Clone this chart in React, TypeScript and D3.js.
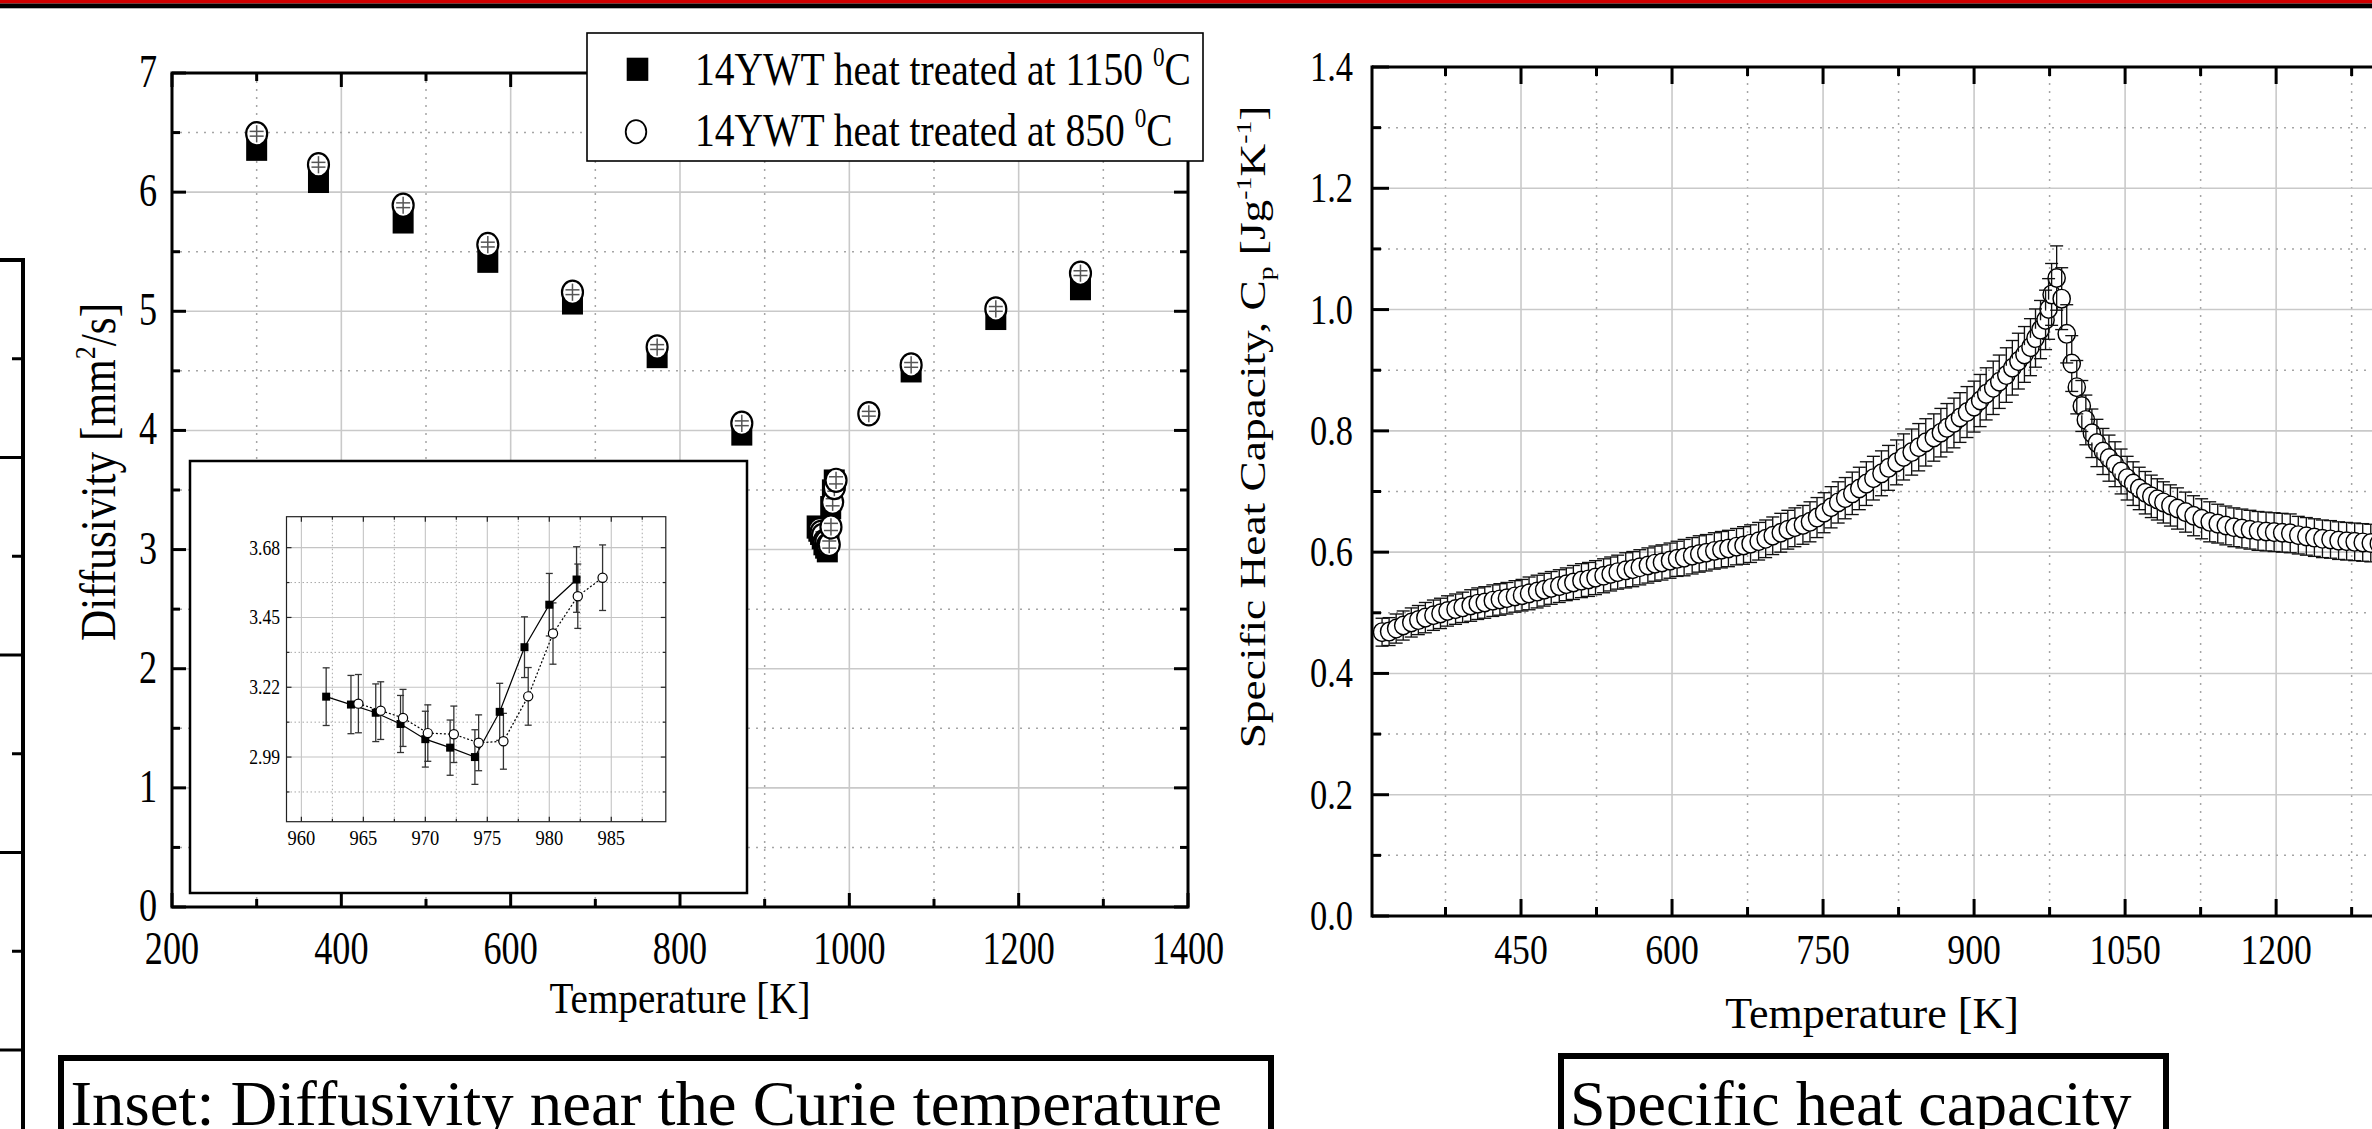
import React from 'react';
import * as d3 from 'd3';

const W = 2372;
const H = 1129;
const FONT = "'Liberation Serif','Times New Roman',Times,serif";

// ---------- Diffusivity (main panel) ----------
const diffTicksX = [200, 400, 600, 800, 1000, 1200, 1400];
const diffTicksY = [0, 1, 2, 3, 4, 5, 6, 7];
const sqTemp = [300, 373, 473, 573, 673, 773, 873, 1073, 1173, 1273];
const sqVal = [6.36, 6.09, 5.75, 5.42, 5.07, 4.62, 3.97, 4.5, 4.94, 5.19];
const sqErr = [0.02, 0.02, 0.02, 0.02, 0.02, 0.02, 0.02, 0.02, 0.02, 0.02];
const ciTemp = [300, 373, 473, 573, 673, 773, 873, 1023, 1073, 1173, 1273];
const ciVal = [6.49, 6.23, 5.89, 5.56, 5.16, 4.7, 4.06, 4.14, 4.55, 5.02, 5.32];
const ciErr = [0.02, 0.02, 0.02, 0.02, 0.02, 0.02, 0.02, 0.02, 0.02, 0.02, 0.02];

// ---------- Inset (near Curie temperature) ----------
const insetTicksX = [960, 965, 970, 975, 980, 985];
const insetTicksY = [2.99, 3.22, 3.45, 3.68];
const inSqTemp = [962, 964, 966, 968, 970, 972, 974, 976, 978, 980, 982.2];
const inSqVal = [3.189, 3.163, 3.136, 3.099, 3.049, 3.021, 2.99, 3.139, 3.352, 3.492, 3.575];
const inSqErr = [0.095, 0.096, 0.095, 0.094, 0.092, 0.091, 0.09, 0.094, 0.1, 0.103, 0.108];
const inCiTemp = [964.6, 966.4, 968.2, 970.2, 972.3, 974.3, 976.3, 978.3, 980.3, 982.3, 984.3];
const inCiVal = [3.166, 3.143, 3.119, 3.069, 3.065, 3.037, 3.042, 3.19, 3.397, 3.52, 3.581];
const inCiErr = [0.096, 0.095, 0.094, 0.093, 0.093, 0.092, 0.092, 0.095, 0.101, 0.106, 0.108];

// ---------- Specific heat capacity ----------
const cpTicksX = [450, 600, 750, 900, 1050, 1200, 1350];
const cpTickLabelsX = [450, 600, 750, 900, 1050, 1200];
const cpTicksY = [0, 0.2, 0.4, 0.6, 0.8, 1.0, 1.2, 1.4];
// [temperature K, Cp J/gK, error]
const cpPoints: [number, number, number][] = [
  [312, 0.468, 0.023], [319, 0.469, 0.023], [326, 0.474, 0.024], [333, 0.479, 0.024],
  [341, 0.484, 0.024], [348, 0.488, 0.024], [355, 0.492, 0.025], [363, 0.496, 0.025],
  [370, 0.499, 0.025], [377, 0.503, 0.025], [385, 0.506, 0.025], [392, 0.509, 0.025],
  [400, 0.512, 0.026], [407, 0.515, 0.026], [414, 0.517, 0.026], [422, 0.52, 0.026],
  [429, 0.522, 0.026], [436, 0.524, 0.026], [444, 0.527, 0.026], [451, 0.529, 0.026],
  [458, 0.532, 0.027], [466, 0.535, 0.027], [473, 0.538, 0.027], [480, 0.541, 0.027],
  [488, 0.544, 0.027], [495, 0.547, 0.027], [502, 0.55, 0.028], [510, 0.553, 0.028],
  [517, 0.555, 0.028], [524, 0.558, 0.028], [532, 0.561, 0.028], [539, 0.564, 0.028],
  [546, 0.567, 0.028], [554, 0.57, 0.029], [561, 0.572, 0.029], [568, 0.575, 0.029],
  [576, 0.578, 0.029], [583, 0.581, 0.029], [590, 0.583, 0.029], [598, 0.586, 0.029],
  [605, 0.589, 0.029], [612, 0.591, 0.03], [620, 0.594, 0.03], [627, 0.597, 0.03],
  [634, 0.599, 0.03], [642, 0.602, 0.03], [649, 0.604, 0.03], [656, 0.606, 0.03],
  [664, 0.609, 0.03], [671, 0.611, 0.031], [678, 0.614, 0.031], [686, 0.618, 0.031],
  [693, 0.622, 0.031], [700, 0.627, 0.031], [708, 0.632, 0.032], [715, 0.637, 0.032],
  [722, 0.641, 0.032], [730, 0.645, 0.032], [737, 0.65, 0.033], [744, 0.657, 0.033],
  [751, 0.665, 0.033], [758, 0.674, 0.034], [765, 0.682, 0.034], [772, 0.689, 0.034],
  [779, 0.697, 0.035], [786, 0.705, 0.035], [793, 0.713, 0.036], [800, 0.722, 0.036],
  [808, 0.73, 0.037], [815, 0.739, 0.037], [823, 0.748, 0.037], [830, 0.757, 0.038],
  [838, 0.765, 0.038], [845, 0.773, 0.039], [852, 0.781, 0.039], [860, 0.789, 0.039],
  [867, 0.797, 0.04], [873, 0.805, 0.04], [880, 0.813, 0.041], [886, 0.822, 0.041],
  [893, 0.831, 0.042], [900, 0.84, 0.042], [906, 0.85, 0.043], [912, 0.861, 0.043],
  [919, 0.871, 0.044], [925, 0.881, 0.044], [932, 0.892, 0.045], [938, 0.904, 0.045],
  [944, 0.915, 0.046], [950, 0.926, 0.046], [956, 0.938, 0.047], [961, 0.953, 0.048],
  [966, 0.967, 0.048], [971, 0.983, 0.049], [974, 1.001, 0.05], [977, 1.025, 0.051],
  [982, 1.052, 0.053], [987, 1.018, 0.051], [992, 0.96, 0.048], [997, 0.911, 0.046],
  [1002, 0.872, 0.044], [1007, 0.841, 0.042], [1011, 0.818, 0.041], [1017, 0.796, 0.04],
  [1022, 0.78, 0.039], [1028, 0.766, 0.038], [1034, 0.755, 0.038], [1040, 0.745, 0.037],
  [1046, 0.733, 0.037], [1052, 0.722, 0.036], [1058, 0.713, 0.036], [1064, 0.705, 0.035],
  [1070, 0.698, 0.035], [1076, 0.692, 0.035], [1082, 0.687, 0.034], [1088, 0.682, 0.034],
  [1095, 0.677, 0.034], [1102, 0.672, 0.034], [1110, 0.666, 0.033], [1118, 0.66, 0.033],
  [1126, 0.655, 0.033], [1134, 0.65, 0.033], [1142, 0.647, 0.032], [1150, 0.644, 0.032],
  [1158, 0.641, 0.032], [1166, 0.639, 0.032], [1174, 0.637, 0.032], [1182, 0.635, 0.032],
  [1190, 0.634, 0.032], [1198, 0.633, 0.032], [1206, 0.632, 0.032], [1214, 0.631, 0.032],
  [1222, 0.628, 0.031], [1230, 0.626, 0.031], [1238, 0.624, 0.031], [1246, 0.622, 0.031],
  [1254, 0.621, 0.031], [1262, 0.619, 0.031], [1270, 0.618, 0.031], [1278, 0.617, 0.031],
  [1286, 0.616, 0.031], [1294, 0.615, 0.031], [1302, 0.614, 0.031],
];

// fragment of a neighbouring panel on the far left
const fragTicks = [0, 0.5, 1, 1.5, 2, 2.5, 3, 3.5];

const legendLabels = ['14YWT heat treated at 1150 ', '14YWT heat treated at 850 '];

// ---------- scales ----------
const xL = d3.scaleLinear().domain([200, 1400]).range([172, 1188]);
const yL = d3.scaleLinear().domain([0, 7]).range([907, 73]);
const xI = d3.scaleLinear().domain([958.8, 989.4]).range([286.5, 665.8]);
const yI = d3.scaleLinear().domain([2.777, 3.782]).range([821.7, 516.7]);
const xR = d3.scaleLinear().domain([302, 1400]).range([1372, 2477.5]);
const yR = d3.scaleLinear().domain([0, 1.4]).range([916, 67]);
const yF = d3.scaleLinear().domain([0, 4]).range([1050, 260]);

function minors(majors: number[], domain: number[]) {
  const s = majors[1] - majors[0];
  const lo = Math.min(domain[0], domain[1]);
  const hi = Math.max(domain[0], domain[1]);
  return d3.range(majors[0] - s / 2, hi, s).filter((v) => v > lo + 1e-9 && v < hi - 1e-9);
}

type TP = {
  x: number; y: number; size: number; sx?: number; anchor?: 'start' | 'middle' | 'end';
  rot?: number; children: React.ReactNode;
};
const Txt = ({ x, y, size, sx = 1, anchor = 'start', rot = 0, children }: TP) => (
  <g transform={`translate(${x},${y}) rotate(${rot}) scale(${sx},1)`}>
    <text x={0} y={0} fontFamily={FONT} fontSize={size} textAnchor={anchor} fill="#000">
      {children}
    </text>
  </g>
);

const gridSolid = { stroke: '#c9c9c9', strokeWidth: 1.6 };
const gridDot = { stroke: '#a5a5a5', strokeWidth: 1.5, strokeDasharray: '2 6' };

export default function App() {
  React.useEffect(() => {
    document.body.style.margin = '0';
  }, []);

  const fmt1 = d3.format('.1f');
  const fmt2 = d3.format('.2f');

  const L = { x0: xL.range()[0], x1: xL.range()[1], y0: yL.range()[1], y1: yL.range()[0] };
  const lxMin = minors(diffTicksX, xL.domain());
  const lyMin = minors(diffTicksY, yL.domain());
  const LMAJ = 14, LMIN = 8;

  const I = { x0: xI.range()[0], x1: xI.range()[1], y0: yI.range()[1], y1: yI.range()[0] };
  const ixMin = minors(insetTicksX, xI.domain());
  const iyMin = minors(insetTicksY, yI.domain());

  const R = { x0: xR.range()[0], x1: xR.range()[1], y0: yR.range()[1], y1: yR.range()[0] };
  const rxMin = minors(cpTicksX, xR.domain());
  const ryMin = minors(cpTicksY, yR.domain());
  const RMAJ = 17, RMIN = 9;

  const sqLine = d3.line<number>().x((_, i) => xI(inSqTemp[i])).y((d) => yI(d));
  const ciLine = d3.line<number>().x((_, i) => xI(inCiTemp[i])).y((d) => yI(d));

  const MR_X = 10.5, MR_Y = 11.6;
  const CP_RX = 8.6, CP_RY = 9.3;

  const innerBar = (cx: number, cy: number, v: number, e: number, key: string) => {
    const d = Math.abs(yL(v + e) - yL(v));
    return (
      <g key={key} stroke="#555" strokeWidth={1.5}>
        <line x1={cx} x2={cx} y1={cy - MR_Y + 3} y2={cy + MR_Y - 3} />
        <line x1={cx - 7} x2={cx + 7} y1={cy - d} y2={cy - d} />
        <line x1={cx - 7} x2={cx + 7} y1={cy + d} y2={cy + d} />
      </g>
    );
  };

  return (
    <svg
      width={W}
      height={H}
      viewBox={`0 0 ${W} ${H}`}
      style={{ position: 'absolute', left: 0, top: 0, display: 'block', background: '#fff' }}
      xmlns="http://www.w3.org/2000/svg"
    >
      <rect x={0} y={0} width={W} height={H} fill="#fff" />
      <rect x={0} y={0} width={W} height={3.5} fill="#d00000" />
      <rect x={0} y={3.5} width={W} height={4.8} fill="#000" />

      {/* far-left fragment */}
      <g stroke="#000">
        <line x1={23} x2={23} y1={yF(4) - 2} y2={H} strokeWidth={4} />
        <line x1={0} x2={25} y1={yF(4)} y2={yF(4)} strokeWidth={4} />
        {fragTicks.map((t, i) => (
          <line key={'fr' + i} x1={i % 2 === 0 ? 0 : 12} x2={23} y1={yF(t)} y2={yF(t)} strokeWidth={3} />
        ))}
      </g>

      {/* LEFT PANEL */}
      <g>
        {diffTicksX.slice(1, -1).map((t) => (
          <line key={'lgx' + t} x1={xL(t)} x2={xL(t)} y1={L.y0} y2={L.y1} {...gridSolid} />
        ))}
        {lxMin.map((t) => (
          <line key={'lgxm' + t} x1={xL(t)} x2={xL(t)} y1={L.y0} y2={L.y1} {...gridDot} />
        ))}
        {diffTicksY.slice(1, -1).map((t) => (
          <line key={'lgy' + t} x1={L.x0} x2={L.x1} y1={yL(t)} y2={yL(t)} {...gridSolid} />
        ))}
        {lyMin.map((t) => (
          <line key={'lgym' + t} x1={L.x0} x2={L.x1} y1={yL(t)} y2={yL(t)} {...gridDot} />
        ))}

        <g stroke="#000" strokeWidth={3}>
          {[...diffTicksX.map((t) => [t, LMAJ]), ...lxMin.map((t) => [t, LMIN])].map(([t, len]) => (
            <g key={'ltx' + t}>
              <line x1={xL(t)} x2={xL(t)} y1={L.y1} y2={L.y1 - len} />
              <line x1={xL(t)} x2={xL(t)} y1={L.y0} y2={L.y0 + len} />
            </g>
          ))}
          {[...diffTicksY.map((t) => [t, LMAJ]), ...lyMin.map((t) => [t, LMIN])].map(([t, len]) => (
            <g key={'lty' + t}>
              <line x1={L.x0} x2={L.x0 + len} y1={yL(t)} y2={yL(t)} />
              <line x1={L.x1} x2={L.x1 - len} y1={yL(t)} y2={yL(t)} />
            </g>
          ))}
        </g>
        <rect x={L.x0} y={L.y0} width={L.x1 - L.x0} height={L.y1 - L.y0} fill="none" stroke="#000" strokeWidth={3} />

        {diffTicksX.map((t) => (
          <Txt key={'llx' + t} x={xL(t)} y={964} size={47} sx={0.77} anchor="middle">
            {String(t)}
          </Txt>
        ))}
        {diffTicksY.map((t) => (
          <Txt key={'lly' + t} x={157} y={yL(t) + 14} size={47} sx={0.77} anchor="end">
            {String(t)}
          </Txt>
        ))}

        <Txt x={(L.x0 + L.x1) / 2} y={1013} size={45} sx={0.87} anchor="middle">
          Temperature [K]
        </Txt>
        <Txt x={115} y={472} size={50} sx={0.866} anchor="middle" rot={-90}>
          Diffusivity [mm
          <tspan dy={-20} fontSize={30}>2</tspan>
          <tspan dy={20}>/s]</tspan>
        </Txt>

        {/* INSET */}
        <rect x={190} y={461} width={557} height={432} fill="#fff" stroke="#000" strokeWidth={2.5} />
        <g>
          {insetTicksX.map((t) => (
            <line key={'igx' + t} x1={xI(t)} x2={xI(t)} y1={I.y0} y2={I.y1} stroke="#c4c4c4" strokeWidth={1.1} />
          ))}
          {ixMin.map((t) => (
            <line key={'igxm' + t} x1={xI(t)} x2={xI(t)} y1={I.y0} y2={I.y1} stroke="#a8a8a8" strokeWidth={1} strokeDasharray="1.5 2.5" />
          ))}
          {insetTicksY.map((t) => (
            <line key={'igy' + t} x1={I.x0} x2={I.x1} y1={yI(t)} y2={yI(t)} stroke="#c4c4c4" strokeWidth={1.1} />
          ))}
          {iyMin.map((t) => (
            <line key={'igym' + t} x1={I.x0} x2={I.x1} y1={yI(t)} y2={yI(t)} stroke="#a8a8a8" strokeWidth={1} strokeDasharray="1.5 2.5" />
          ))}
          <g stroke="#222" strokeWidth={1.2}>
            {[...insetTicksX.map((t) => [t, 5]), ...ixMin.map((t) => [t, 3])].map(([t, len]) => (
              <g key={'itx' + t}>
                <line x1={xI(t)} x2={xI(t)} y1={I.y1} y2={I.y1 - len} />
                <line x1={xI(t)} x2={xI(t)} y1={I.y0} y2={I.y0 + len} />
              </g>
            ))}
            {[...insetTicksY.map((t) => [t, 5]), ...iyMin.map((t) => [t, 3])].map(([t, len]) => (
              <g key={'ity' + t}>
                <line x1={I.x0} x2={I.x0 + len} y1={yI(t)} y2={yI(t)} />
                <line x1={I.x1} x2={I.x1 - len} y1={yI(t)} y2={yI(t)} />
              </g>
            ))}
          </g>
          <rect x={I.x0} y={I.y0} width={I.x1 - I.x0} height={I.y1 - I.y0} fill="none" stroke="#222" strokeWidth={1.2} />
          {insetTicksX.map((t) => (
            <Txt key={'ilx' + t} x={xI(t)} y={845} size={21} sx={0.88} anchor="middle">
              {String(t)}
            </Txt>
          ))}
          {insetTicksY.map((t) => (
            <Txt key={'ily' + t} x={280} y={yI(t) + 7} size={20} sx={0.88} anchor="end">
              {fmt2(t)}
            </Txt>
          ))}

          <path d={sqLine(inSqVal) || ''} fill="none" stroke="#000" strokeWidth={1.2} />
          <path d={ciLine(inCiVal) || ''} fill="none" stroke="#000" strokeWidth={1.2} strokeDasharray="2 2" />
          <g stroke="#333" strokeWidth={1.3}>
            {inSqVal.map((v, i) => {
              const cx = xI(inSqTemp[i]);
              const t = yI(v + inSqErr[i]);
              const b = yI(v - inSqErr[i]);
              return (
                <g key={'ise' + i}>
                  <line x1={cx} x2={cx} y1={t} y2={b} />
                  <line x1={cx - 3.5} x2={cx + 3.5} y1={t} y2={t} />
                  <line x1={cx - 3.5} x2={cx + 3.5} y1={b} y2={b} />
                </g>
              );
            })}
            {inCiVal.map((v, i) => {
              const cx = xI(inCiTemp[i]);
              const t = yI(v + inCiErr[i]);
              const b = yI(v - inCiErr[i]);
              return (
                <g key={'ice' + i}>
                  <line x1={cx} x2={cx} y1={t} y2={b} />
                  <line x1={cx - 3.5} x2={cx + 3.5} y1={t} y2={t} />
                  <line x1={cx - 3.5} x2={cx + 3.5} y1={b} y2={b} />
                </g>
              );
            })}
          </g>
          {inSqVal.map((v, i) => (
            <rect key={'ism' + i} x={xI(inSqTemp[i]) - 4} y={yI(v) - 4} width={8} height={8} fill="#000" />
          ))}
          {inCiVal.map((v, i) => (
            <circle key={'icm' + i} cx={xI(inCiTemp[i])} cy={yI(v)} r={4.6} fill="#fff" stroke="#000" strokeWidth={1.2} />
          ))}
        </g>

        {inSqVal.map((v, i) => (
          <rect key={'msq_c' + i} x={xL(inSqTemp[i]) - MR_X} y={yL(v) - MR_Y} width={MR_X * 2} height={MR_Y * 2} fill="#000" />
        ))}
        {sqVal.map((v, i) => (
          <rect key={'msq' + i} x={xL(sqTemp[i]) - MR_X} y={yL(v) - MR_Y} width={MR_X * 2} height={MR_Y * 2} fill="#000" />
        ))}
        {inCiVal.map((v, i) => (
          <g key={'mci_c' + i}>
            <ellipse cx={xL(inCiTemp[i])} cy={yL(v)} rx={MR_X} ry={MR_Y} fill="#fff" stroke="#000" strokeWidth={2.2} />
            {innerBar(xL(inCiTemp[i]), yL(v), v, 0.03, 'mcib_c' + i)}
          </g>
        ))}
        {ciVal.map((v, i) => (
          <g key={'mci' + i}>
            <ellipse cx={xL(ciTemp[i])} cy={yL(v)} rx={MR_X} ry={MR_Y} fill="#fff" stroke="#000" strokeWidth={2.2} />
            {innerBar(xL(ciTemp[i]), yL(v), v, ciErr[i], 'mcib' + i)}
          </g>
        ))}

        <rect x={587} y={33} width={616} height={128} fill="#fff" stroke="#000" strokeWidth={1.6} />
        <rect x={637.5 - 10.8} y={69.3 - 11.6} width={21.6} height={23.2} fill="#000" />
        <ellipse cx={636} cy={131.7} rx={10.3} ry={11.6} fill="#fff" stroke="#000" strokeWidth={1.8} />
        {legendLabels.map((lab, i) => (
          <Txt key={'leg' + i} x={695} y={i === 0 ? 85 : 145.7} size={46} sx={0.86}>
            {lab}
            <tspan dy={-19} fontSize={27}>0</tspan>
            <tspan dy={19}>C</tspan>
          </Txt>
        ))}
      </g>

      {/* RIGHT PANEL */}
      <g>
        {cpTicksX.map((t) => (
          <line key={'rgx' + t} x1={xR(t)} x2={xR(t)} y1={R.y0} y2={R.y1} {...gridSolid} />
        ))}
        {rxMin.map((t) => (
          <line key={'rgxm' + t} x1={xR(t)} x2={xR(t)} y1={R.y0} y2={R.y1} {...gridDot} />
        ))}
        {cpTicksY.slice(1, -1).map((t) => (
          <line key={'rgy' + t} x1={R.x0} x2={R.x1} y1={yR(t)} y2={yR(t)} {...gridSolid} />
        ))}
        {ryMin.map((t) => (
          <line key={'rgym' + t} x1={R.x0} x2={R.x1} y1={yR(t)} y2={yR(t)} {...gridDot} />
        ))}

        {cpPoints.map(([t, v], i) => (
          <ellipse key={'cpc' + i} cx={xR(t)} cy={yR(v)} rx={CP_RX} ry={CP_RY} fill="#fff" stroke="#000" strokeWidth={1.45} />
        ))}
        <g stroke="#111" strokeWidth={1.35}>
          {cpPoints.map(([t, v, e], i) => {
            const cx = xR(t);
            const cy = yR(v);
            const yt = yR(v + e);
            const yb = yR(v - e);
            return (
              <g key={'cpe' + i}>
                <line x1={cx} x2={cx} y1={yt} y2={cy - CP_RY} />
                <line x1={cx} x2={cx} y1={cy + CP_RY} y2={yb} />
                <line x1={cx - 6.5} x2={cx + 6.5} y1={yt} y2={yt} />
                <line x1={cx - 6.5} x2={cx + 6.5} y1={yb} y2={yb} />
              </g>
            );
          })}
        </g>

        <g stroke="#000" strokeWidth={3}>
          {[...cpTicksX.map((t) => [t, RMAJ]), ...rxMin.map((t) => [t, RMIN])].map(([t, len]) => (
            <g key={'rtx' + t}>
              <line x1={xR(t)} x2={xR(t)} y1={R.y1} y2={R.y1 - len} />
              <line x1={xR(t)} x2={xR(t)} y1={R.y0} y2={R.y0 + len} />
            </g>
          ))}
          {[...cpTicksY.map((t) => [t, RMAJ]), ...ryMin.map((t) => [t, RMIN])].map(([t, len]) => (
            <line key={'rty' + t} x1={R.x0} x2={R.x0 + len} y1={yR(t)} y2={yR(t)} />
          ))}
          <line x1={R.x0} x2={R.x0} y1={R.y0 - 1.5} y2={R.y1 + 1.5} />
          <line x1={R.x0} x2={R.x1} y1={R.y0} y2={R.y0} />
          <line x1={R.x0} x2={R.x1} y1={R.y1} y2={R.y1} />
        </g>

        {cpTicksY.map((t) => (
          <Txt key={'rly' + t} x={1353} y={yR(t) + 14} size={42} sx={0.82} anchor="end">
            {fmt1(t)}
          </Txt>
        ))}
        {cpTickLabelsX.map((t) => (
          <Txt key={'rlx' + t} x={xR(t)} y={964} size={42} sx={0.85} anchor="middle">
            {String(t)}
          </Txt>
        ))}

        <Txt x={1872} y={1028} size={44} sx={1} anchor="middle">
          Temperature [K]
        </Txt>
        <Txt x={1265} y={427} size={36} sx={1.26} anchor="middle" rot={-90}>
          Specific Heat Capacity, C
          <tspan dy={8} fontSize={22}>p</tspan>
          <tspan dy={-8}> [Jg</tspan>
          <tspan dy={-14} fontSize={22}>-1</tspan>
          <tspan dy={14}>K</tspan>
          <tspan dy={-14} fontSize={22}>-1</tspan>
          <tspan dy={14}>]</tspan>
        </Txt>
      </g>

      {/* caption boxes */}
      <rect x={61} y={1058} width={1210} height={140} fill="none" stroke="#000" strokeWidth={6} />
      <Txt x={70.5} y={1125} size={64} sx={1.012}>
        Inset: Diffusivity near the Curie temperature
      </Txt>
      <rect x={1561} y={1056} width={605} height={140} fill="none" stroke="#000" strokeWidth={6} />
      <Txt x={1570} y={1125} size={64}>
        Specific heat capacity
      </Txt>
    </svg>
  );
}
